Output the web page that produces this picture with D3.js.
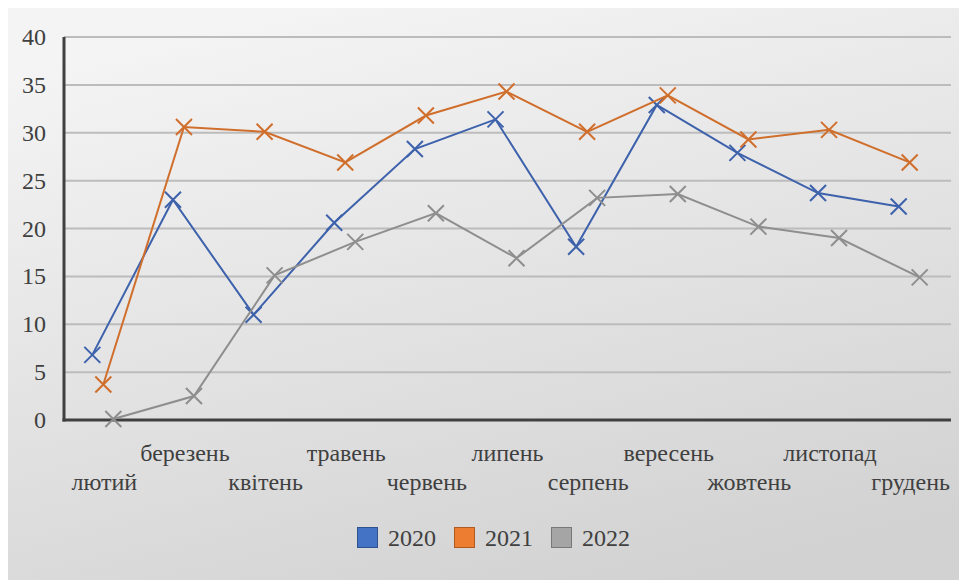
<!DOCTYPE html>
<html lang="uk">
<head>
<meta charset="UTF-8">
<title>2020-2022</title>
<script src="https://cdn.jsdelivr.net/npm/d3@7"></script>
<style>
  body { margin: 0; background: #fff; }
</style>
</head>
<body>
<svg id="svg"></svg>
<script>
var months = ["лютий", "березень", "квітень", "травень", "червень", "липень",
              "серпень", "вересень", "жовтень", "листопад", "грудень"];
var v2020 = [6.8, 23.0, 11.0, 20.6, 28.3, 31.4, 18.1, 32.9, 27.9, 23.7, 22.3];
var v2021 = [3.7, 30.6, 30.1, 26.9, 31.8, 34.3, 30.1, 33.9, 29.3, 30.3, 26.9];
var v2022 = [0.1, 2.5, 15.1, 18.6, 21.6, 16.9, 23.2, 23.6, 20.2, 19.0, 14.9];
var yTicks = [0, 5, 10, 15, 20, 25, 30, 35, 40];

var series = [
  { name: "2020", values: v2020, line: "#3d62ab", fill: "#4472c4", edge: "#2f528f", dx: -12 },
  { name: "2021", values: v2021, line: "#d06e2c", fill: "#ed7d31", edge: "#ae5a21", dx: -1 },
  { name: "2022", values: v2022, line: "#8e8e8e", fill: "#a5a5a5", edge: "#787878", dx: 9 }
];

var w = 959, h = 580;
var svg = d3.select("#svg").attr("width", w).attr("height", h)
  .attr("font-family", "'Liberation Serif', 'Noto Serif', 'DejaVu Serif', FreeSerif, Georgia, serif");

var defs = svg.append("defs");
var grad = defs.append("linearGradient").attr("id", "bg")
  .attr("x1", "0.3").attr("y1", "0").attr("x2", "0.7").attr("y2", "1");
grad.append("stop").attr("offset", "0").attr("stop-color", "#f4f4f4");
grad.append("stop").attr("offset", "1").attr("stop-color", "#d2d2d2");

svg.append("rect").attr("x", 8).attr("y", 8).attr("width", w - 8).attr("height", h - 8)
  .attr("fill", "url(#bg)");

var x = d3.scaleBand().domain(months).range([64, 951]);
var y = d3.scaleLinear().domain([0, 40]).range([420, 37]);

// gridlines
svg.append("g").selectAll("line").data(yTicks.slice(1)).enter().append("line")
  .attr("x1", 64).attr("x2", 951)
  .attr("y1", function(d) { return y(d); }).attr("y2", function(d) { return y(d); })
  .attr("stroke", "#bcbcbc").attr("stroke-width", 2);

// y axis labels
svg.append("g").selectAll("text").data(yTicks).enter().append("text")
  .attr("x", 46).attr("y", function(d) { return y(d) + 8; })
  .attr("text-anchor", "end").attr("font-size", 24).attr("fill", "#404040")
  .text(function(d) { return d; });

// x labels, staggered in two rows
svg.append("g").selectAll("text").data(months).enter().append("text")
  .attr("x", function(d) { return x(d) + x.bandwidth() / 2; })
  .attr("y", function(d, i) { return i % 2 ? 461 : 490; })
  .attr("text-anchor", "middle").attr("font-size", 24).attr("fill", "#404040")
  .text(function(d) { return d; });

// axes
svg.append("line").attr("x1", 64).attr("x2", 64).attr("y1", 37).attr("y2", 421.5)
  .attr("stroke", "#404040").attr("stroke-width", 3);
svg.append("line").attr("x1", 62.5).attr("x2", 951).attr("y1", 420).attr("y2", 420)
  .attr("stroke", "#404040").attr("stroke-width", 3);

var line = d3.line();

series.forEach(function(s) {
  var pts = s.values.map(function(v, i) {
    return [x(months[i]) + x.bandwidth() / 2 + s.dx, y(v)];
  });
  svg.append("path").attr("d", line(pts))
    .attr("fill", "none").attr("stroke", s.line).attr("stroke-width", 2);
  var m = 8;
  svg.append("g").selectAll("path").data(pts).enter().append("path")
    .attr("d", function(p) {
      return "M" + (p[0] - m) + "," + (p[1] - m) + "L" + (p[0] + m) + "," + (p[1] + m) +
             "M" + (p[0] - m) + "," + (p[1] + m) + "L" + (p[0] + m) + "," + (p[1] - m);
    })
    .attr("stroke", s.line).attr("stroke-width", 2).attr("fill", "none");
});

// legend
var lg = svg.append("g").selectAll("g").data(series).enter().append("g")
  .attr("transform", function(d, i) { return "translate(" + (357 + i * 97) + ",527)"; });
lg.append("rect").attr("x", 0.5).attr("y", 0.5).attr("width", 20).attr("height", 20)
  .attr("fill", function(d) { return d.fill; })
  .attr("stroke", function(d) { return d.edge; }).attr("stroke-width", 1);
lg.append("text").attr("x", 31).attr("y", 19).attr("font-size", 24).attr("fill", "#404040")
  .text(function(d) { return d.name; });
</script>
</body>
</html>
